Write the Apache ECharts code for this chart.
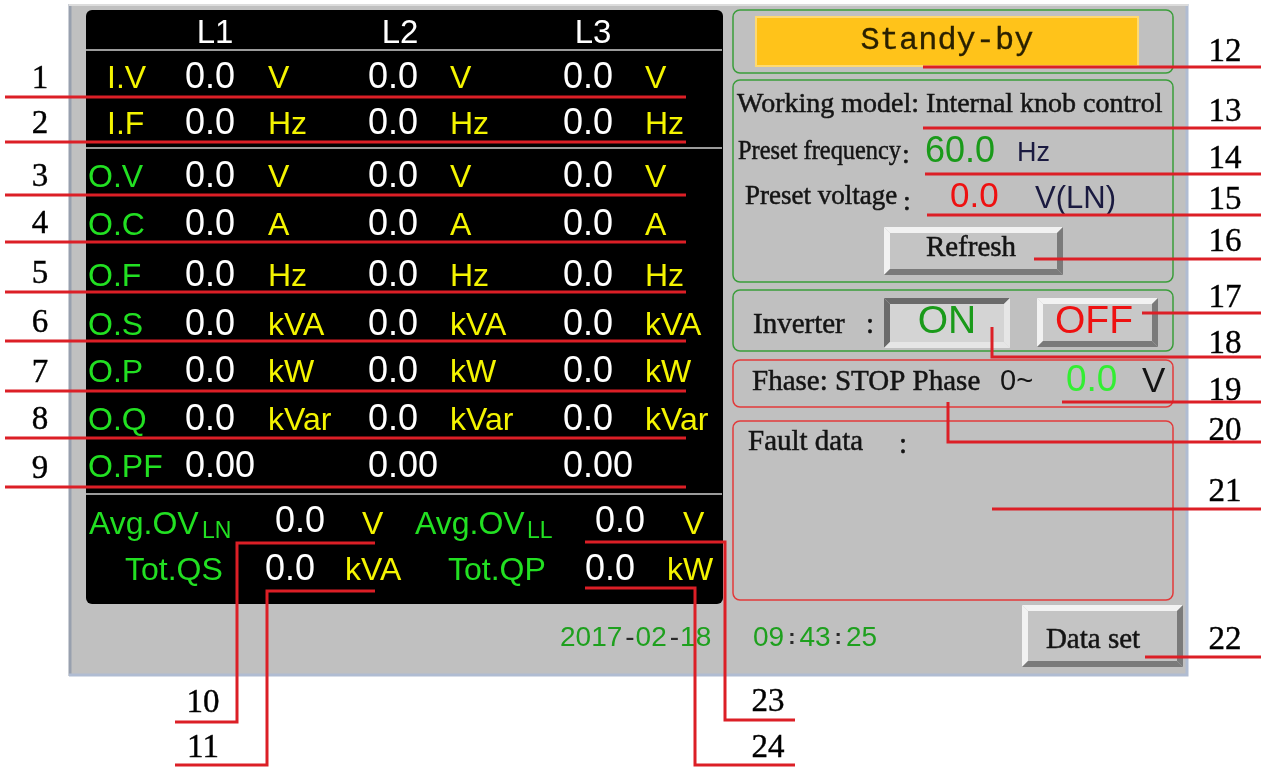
<!DOCTYPE html>
<html><head><meta charset="utf-8">
<script src="https://cdn.jsdelivr.net/npm/echarts@6/dist/echarts.min.js"></script>
<style>html,body{margin:0;padding:0;background:#fff}#c{width:1261px;height:767px}</style>
</head><body><div id="c"></div>
<script>
// ---------- DATA ----------
const phases = ['L1', 'L2', 'L3'];
const rowLabels = ['I.V', 'I.F', 'O.V', 'O.C', 'O.F', 'O.S', 'O.P', 'O.Q', 'O.PF'];
const rowUnits = ['V', 'Hz', 'V', 'A', 'Hz', 'kVA', 'kW', 'kVar', ''];
const valuesL1 = ['0.0', '0.0', '0.0', '0.0', '0.0', '0.0', '0.0', '0.0', '0.00'];
const valuesL2 = ['0.0', '0.0', '0.0', '0.0', '0.0', '0.0', '0.0', '0.0', '0.00'];
const valuesL3 = ['0.0', '0.0', '0.0', '0.0', '0.0', '0.0', '0.0', '0.0', '0.00'];
const rowCallouts = ['1', '2', '3', '4', '5', '6', '7', '8', '9'];
const summaryLabels = ['Avg.OV', 'Avg.OV', 'Tot.QS', 'Tot.QP'];
const summarySubs = ['LN', 'LL', '', ''];
const summaryValues = ['0.0', '0.0', '0.0', '0.0'];
const summaryUnits = ['V', 'V', 'kVA', 'kW'];
const bottomCallouts = ['10', '23', '11', '24'];
const statusText = 'Standy-by';
const workingModel = 'Working model: Internal knob control';
const presetFreqLabel = 'Preset frequency';
const presetFreq = '60.0';
const presetFreqUnit = 'Hz';
const presetVoltLabel = 'Preset voltage';
const presetVolt = '0.0';
const presetVoltUnit = 'V(LN)';
const buttonTexts = ['Refresh', 'ON', 'OFF', 'Data set'];
const inverterLabel = 'Inverter';
const phaseLabel = 'Fhase: STOP Phase';
const phaseRange = '0~';
const phaseValue = '0.0';
const phaseUnit = 'V';
const faultLabel = 'Fault data';
const dateParts = ['2017', '02', '18'];
const timeParts = ['09', '43', '25'];
const rightCallouts = ['12', '13', '14', '15', '16', '17', '18', '19', '20', '21', '22'];

// ---------- LAYOUT / STYLE ----------
const SANS = '"Liberation Sans", Arial, sans-serif';
const SERIF = '"Liberation Serif", "Times New Roman", serif';
const MONO = '"Liberation Mono", "DejaVu Sans Mono", monospace';
const RED = '#dc1f26';
const YEL = '#f4f400';
const GRN = '#22e022';
const INK = '#141414';
const rowY = [79, 125, 178, 226, 277, 326, 373, 421, 468];
const rowLineY = [97, 142, 195, 242, 292, 341, 391, 438, 487];
const labelX = [107, 107, 88, 88, 88, 88, 88, 88, 88];
const valueX = [185, 368, 563];
const unitX = [268, 450, 645];
const headerX = [215, 400, 593];
const sumPos = [
  {lx: 89, ly: 525, sx: 202, vx: 275, vy: 522, ux: 362},
  {lx: 415, ly: 525, sx: 527, vx: 595, vy: 522, ux: 683},
  {lx: 125, ly: 571, sx: 0, vx: 265, vy: 570, ux: 345},
  {lx: 448, ly: 571, sx: 0, vx: 585, vy: 570, ux: 667}
];
const bottomLines = [
  [[375, 543], [237, 543], [237, 722], [175, 722]],
  [[585, 542], [725, 542], [725, 720], [795, 720]],
  [[375, 591], [267, 591], [267, 765], [175, 765]],
  [[585, 588], [695, 588], [695, 765], [795, 765]]
];
const bottomNumPos = [[203, 703], [768, 702], [203, 748], [768, 748]];
const rightLines = [
  [[923, 67], [1261, 67]],
  [[923, 128], [1261, 128]],
  [[925, 174], [1261, 174]],
  [[927, 215], [1261, 215]],
  [[1034, 259], [1261, 259]],
  [[1142, 313], [1261, 313]],
  [[992, 327], [992, 357], [1261, 357]],
  [[1062, 402], [1261, 402]],
  [[948, 402], [948, 442], [1261, 442]],
  [[992, 509], [1261, 509]],
  [[1145, 657], [1261, 657]]
];
const rightNumY = [52, 112, 159, 200, 242, 298, 344, 391, 431, 492, 640];

// ---------- BUILD ----------
const els = [];
function T(x, y, text, size, color, o) {
  o = o || {};
  const st = {
    text: text, fill: color,
    font: (o.bold ? 'bold ' : '') + size + 'px ' + (o.family || SANS),
    align: o.align || 'left', verticalAlign: 'middle',
    textAlign: o.align || 'left', textVerticalAlign: 'middle'
  };
  if (o.heavy) { st.stroke = color; st.lineWidth = o.heavy; }
  const el = {type: 'text', x: x, y: y, z: o.z || 5, style: st};
  if (o.scaleX) el.scaleX = o.scaleX;
  els.push(el);
}
function L(points, color, w, z) {
  els.push({type: 'polyline', z: z || 10, shape: {points: points},
    style: {stroke: color, lineWidth: w, fill: null}});
}
function R(x, y, w, h, fill, stroke, lw, r, z) {
  els.push({type: 'rect', z: z || 1, shape: {x: x, y: y, width: w, height: h, r: r || 0},
    style: {fill: fill || null, stroke: stroke || null, lineWidth: lw || 0}});
}
function P(points, fill, z) {
  els.push({type: 'polygon', z: z || 3, shape: {points: points}, style: {fill: fill}});
}
function bevel(x, y, w, h, b, raised, fill) {
  R(x, y, w, h, fill, null, 0, 0, 2);
  const light = raised ? '#f2f2f2' : '#e6e6e6', dark = raised ? '#7a7a7a' : '#6a6a6a';
  const tl = raised ? light : dark, br = raised ? dark : light;
  P([[x, y], [x + w, y], [x + w - b, y + b], [x + b, y + b]], tl);
  P([[x, y], [x + b, y + b], [x + b, y + h - b], [x, y + h]], tl);
  P([[x, y + h], [x + b, y + h - b], [x + w - b, y + h - b], [x + w, y + h]], br);
  P([[x + w, y], [x + w, y + h], [x + w - b, y + h - b], [x + w - b, y + b]], br);
}

// grey panel
R(69, 4, 1119, 672, '#c0c0c0', null, 0, 0, 0);
L([[70, 4], [70, 676]], '#98a0ae', 3, 1);
L([[69, 675], [1187, 675], [1187, 4]], '#b0bcd2', 3, 1);
L([[69, 5], [1188, 5]], '#dcdcdc', 2, 1);
// black panel
R(86, 10, 637, 594, '#000', null, 0, 6, 1);
L([[86, 50], [722, 50]], '#cfcfcf', 1.5, 2);
L([[86, 148], [722, 148]], '#cfcfcf', 1.5, 2);
L([[86, 494], [722, 494]], '#cfcfcf', 1.5, 2);

// header
phases.forEach((p, i) => T(headerX[i], 34, p, 33, '#ffffff', {align: 'center'}));
// rows
const vals = [valuesL1, valuesL2, valuesL3];
rowLabels.forEach((lab, r) => {
  T(labelX[r], rowY[r], lab, 32, r < 2 ? YEL : GRN);
  for (let c = 0; c < 3; c++) {
    T(valueX[c], rowY[r] - 1, vals[c][r], 36, '#ffffff');
    if (rowUnits[r]) T(unitX[c], rowY[r], rowUnits[r], 32, YEL);
  }
  L([[5, rowLineY[r]], [686, rowLineY[r]]], RED, 3);
  T(40, rowLineY[r] - 18, rowCallouts[r], 33, '#000', {family: SERIF, align: 'center', heavy: 0.4});
});
// summary
summaryLabels.forEach((lab, i) => {
  const p = sumPos[i];
  T(p.lx, p.ly, lab, 32, GRN);
  if (summarySubs[i]) T(p.sx, p.ly + 7, summarySubs[i], 23, GRN);
  T(p.vx, p.vy, summaryValues[i], 36, '#ffffff');
  T(p.ux, p.ly, summaryUnits[i], 32, YEL);
  L(bottomLines[i], RED, 3);
  T(bottomNumPos[i][0], bottomNumPos[i][1], bottomCallouts[i], 33, '#000', {family: SERIF, align: 'center', heavy: 0.4});
});
// date/time
const dtRich = {
  g: {fill: '#1ea01e', font: '28px ' + SANS},
  d: {fill: '#2a2a2a', font: '28px ' + SANS, padding: [0, 1, 0, 3]},
  c: {fill: '#2a2a2a', font: 'bold 22px ' + SANS, padding: [0, 4, 0, 4]}
};
els.push({type: 'text', x: 560, y: 638, z: 5, style: {
  text: '{g|' + dateParts[0] + '}{d|-}{g|' + dateParts[1] + '}{d|-}{g|' + dateParts[2] + '}',
  verticalAlign: 'middle', textVerticalAlign: 'middle', rich: dtRich
}});
els.push({type: 'text', x: 753, y: 638, z: 5, style: {
  text: '{g|' + timeParts[0] + '}{c|:}{g|' + timeParts[1] + '}{c|:}{g|' + timeParts[2] + '}',
  verticalAlign: 'middle', textVerticalAlign: 'middle', rich: dtRich
}});

// right panels
const GB = '#3a9d3a', RB = '#e23a3a';
R(733, 10, 440, 63, null, GB, 1.5, 7, 1);
R(733, 80, 440, 202, null, GB, 1.5, 7, 1);
R(733, 290, 440, 61, null, GB, 1.5, 7, 1);
R(733, 360, 440, 47, null, RB, 1.5, 7, 1);
R(733, 421, 440, 179, null, RB, 1.5, 7, 1);
R(756, 17, 382, 49, '#ffc31a', '#ffda70', 2, 0, 2);
T(947, 41, statusText, 32, '#2a2000', {family: MONO, align: 'center', heavy: 0.3});
T(737, 105, workingModel, 28, INK, {family: SERIF, heavy: 0.5});
T(738, 152, presetFreqLabel, 28, INK, {family: SERIF, scaleX: 0.87, heavy: 0.5});
T(902, 156, ':', 28, INK, {family: SERIF, heavy: 0.5});
T(925, 152, presetFreq, 36, '#1a9a1a');
T(1017, 154, presetFreqUnit, 27, '#1a1a40');
T(745, 197, presetVoltLabel, 27, INK, {family: SERIF, heavy: 0.5});
T(903, 203, ':', 28, INK, {family: SERIF, heavy: 0.5});
T(950, 197, presetVolt, 35, '#ee1111');
T(1035, 199, presetVoltUnit, 31, '#1a1a40');
bevel(884, 227, 179, 48, 6, true, '#c4c4c4');
T(971, 248, buttonTexts[0], 29, INK, {family: SERIF, align: 'center', heavy: 0.5});
T(753, 325, inverterLabel, 29, INK, {family: SERIF, heavy: 0.5});
T(866, 325, ':', 29, INK, {family: SERIF, heavy: 0.5});
bevel(884, 298, 126, 50, 6, false, '#d4d4d4');
T(947, 322, buttonTexts[1], 39, '#1a9a1a', {align: 'center'});
bevel(1037, 298, 121, 49, 6, true, '#c8c8c8');
T(1094, 322, buttonTexts[2], 39, '#ee1111', {align: 'center'});
T(752, 382, phaseLabel, 29, INK, {family: SERIF, heavy: 0.5});
T(1000, 382, phaseRange, 29, INK);
T(1066, 381, phaseValue, 37, '#33ee33');
T(1142, 382, phaseUnit, 35, INK);
T(748, 442, faultLabel, 29, INK, {family: SERIF, heavy: 0.5});
T(899, 445, ':', 29, INK, {family: SERIF, heavy: 0.5});
bevel(1022, 605, 161, 62, 6, true, '#c4c4c4');
T(1093, 640, buttonTexts[3], 29, INK, {family: SERIF, align: 'center', heavy: 0.5});

rightCallouts.forEach((n, i) => {
  L(rightLines[i], RED, 3);
  T(1225, rightNumY[i], n, 33, '#000', {family: SERIF, align: 'center', heavy: 0.4});
});

const chart = echarts.init(document.getElementById('c'), null, {renderer: 'canvas'});
chart.setOption({animation: false, graphic: {elements: els}});
</script>
</body></html>
